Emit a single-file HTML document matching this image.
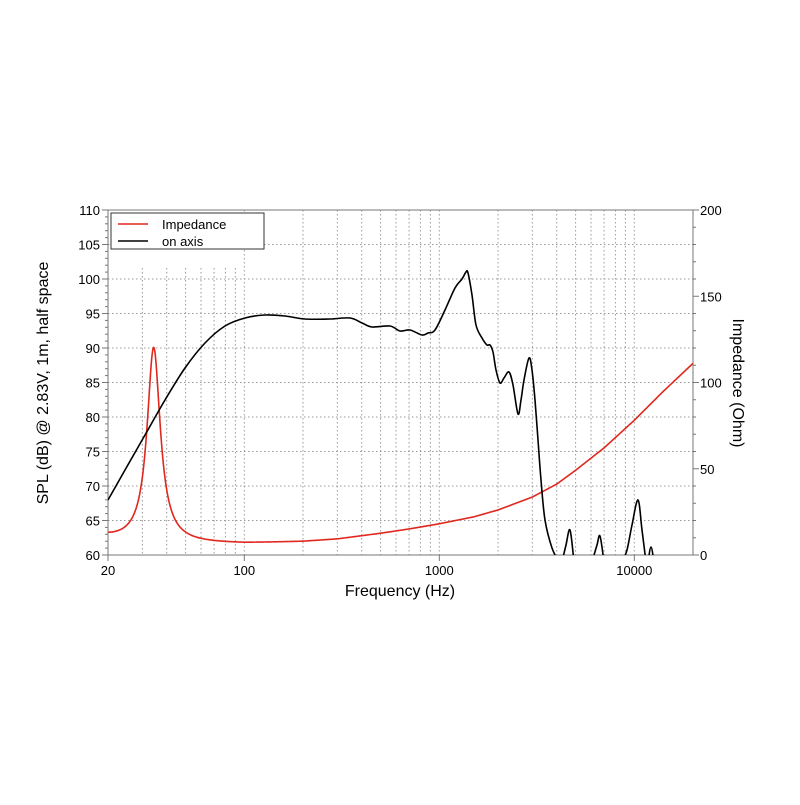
<!DOCTYPE html><html><head><style>body{margin:0;background:#fff}svg{font-family:"Liberation Sans",sans-serif}</style></head><body>
<svg id="s" width="800" height="800" xmlns="http://www.w3.org/2000/svg">
<defs><clipPath id="c"><rect x="108" y="210" width="585" height="345"/></clipPath></defs>
<g id="grid" stroke="#999" stroke-width="1" stroke-dasharray="1.5,2.5" fill="none"></g>
<rect x="108" y="210" width="585" height="345" fill="none" stroke="#777" stroke-width="1"/>
<g id="ticks" stroke="#777" stroke-width="1"></g>
<g id="labels" font-size="13" fill="#000"></g>
<g clip-path="url(#c)" fill="none" stroke-width="1.6" stroke-linejoin="round">
<path id="imp" stroke="#e0281e"/>
<path id="spl" stroke="#000"/>
</g>
<rect x="111" y="213" width="153" height="36" fill="#fff" stroke="#333"/>
<line x1="118" y1="224" x2="148" y2="224" stroke="#e0281e" stroke-width="1.6"/>
<line x1="118" y1="241" x2="148" y2="241" stroke="#000" stroke-width="1.6"/>
<text x="162" y="229" font-size="13">Impedance</text>
<text x="162" y="246" font-size="13">on axis</text>
<text x="400" y="596" font-size="16" text-anchor="middle">Frequency (Hz)</text>
<text transform="translate(48,383) rotate(-90)" font-size="16" text-anchor="middle">SPL (dB) @ 2.83V, 1m, half space</text>
<text transform="translate(733,383) rotate(90)" font-size="16" text-anchor="middle">Impedance (Ohm)</text>
</svg>
<script>
var NS="http://www.w3.org/2000/svg";
function X(f){return 108+(Math.log10(f)-Math.log10(20))*195;}
function Y(d){return 555-(d-60)*6.9;}
function YZ(z){return 555-z*1.725;}
function el(p,t,a,txt){var e=document.createElementNS(NS,t);for(var k in a)e.setAttribute(k,a[k]);if(txt!=null)e.textContent=txt;document.getElementById(p).appendChild(e);}
for(var d=65;d<110;d+=5)el("grid","line",{x1:108,x2:693,y1:Y(d),y2:Y(d)});
var fr=[30,40,50,60,70,80,90,100,200,300,400,500,600,700,800,900,1000,2000,3000,4000,5000,6000,7000,8000,9000,10000];
fr.forEach(function(f){var y1=(f<100)?268:210;el("grid","line",{x1:X(f),x2:X(f),y1:y1,y2:555});});
for(var d=60;d<=110;d+=1){var L=(d%5==0)?6:3;el("ticks","line",{x1:108-L,x2:108,y1:Y(d),y2:Y(d)});}
for(var z=0;z<=200;z+=10){var L=(z%50==0)?6:3;el("ticks","line",{x1:693,x2:693+L,y1:YZ(z),y2:YZ(z)});}
[20,100,1000,10000].forEach(function(f){el("ticks","line",{x1:X(f),x2:X(f),y1:555,y2:561});el("labels","text",{x:X(f),y:575,"text-anchor":"middle"},String(f));});
for(var d=60;d<=110;d+=5)el("labels","text",{x:100,y:Y(d)+5,"text-anchor":"end"},String(d));
for(var z=0;z<=200;z+=50)el("labels","text",{x:700,y:YZ(z)+5},String(z));
function cr(p){var s="M"+p[0][0]+","+p[0][1];for(var i=0;i<p.length-1;i++){var p0=p[i-1]||p[i],p1=p[i],p2=p[i+1],p3=p[i+2]||p2;s+="C"+(p1[0]+(p2[0]-p0[0])/6)+","+(p1[1]+(p2[1]-p0[1])/6)+" "+(p2[0]-(p3[0]-p1[0])/6)+","+(p2[1]-(p3[1]-p1[1])/6)+" "+p2[0]+","+p2[1];}return s;}
var spl=[[108,500],[125,470],[145,435],[165,400],[185,368],[205,343],[225,326],[245,318],[265,315],[285,316],[305,319],[330,319],[350,318],[362,323],[372,327],[390,326],[400,331],[410,330],[422,335],[428,333],[435,330],[445,310],[455,288],[462,279],[466,272],[468,273],[472,295],[476,325],[482,338],[487,345],[490,345],[493,352],[496,370],[500,383],[504,378],[509,372],[513,385],[518,414],[521,400],[524,380],[529,358],[532,370],[535,400],[538,440],[541,480],[545,520],[552,548],[559,562]];
var s=cr(spl);
[[[562,562],[566,545],[570,530],[574,562]],[[592,562],[597,545],[600,536],[604,562]],[[622,562],[627,550],[632,525],[638,500],[642,530],[646,562]],[[648,562],[651,547],[654,562]]].forEach(function(b){s+=cr(b);});
document.getElementById("spl").setAttribute("d",s);
var lt=[[20,0],[100,0.2],[200,1.3],[300,2.7],[500,6],[700,8.5],[1000,11.5],[1500,15.5],[2000,19.5],[3000,27],[4000,34.5],[5000,42.5],[7000,55.5],[10000,71.5],[14000,88],[20000,104.5]];
function Lf(f){var lf=Math.log10(f);for(var i=0;i<lt.length-1;i++){var a=Math.log10(lt[i][0]),b=Math.log10(lt[i+1][0]);if(lf<=b){var t=(lf-a)/(b-a);return lt[i][1]+t*(lt[i+1][1]-lt[i][1]);}}return 104.5;}
var pts=[];for(var i=0;i<=400;i++){var f=20*Math.pow(1000,i/400);var q=5.3*(f/34.3-34.3/f);var z=6.6+113/(1+q*q)+Lf(f)+3.5*Math.pow(20/f,3);pts.push([+X(f).toFixed(2),+YZ(z).toFixed(2)]);}
document.getElementById("imp").setAttribute("d",cr(pts));
</script></body></html>
